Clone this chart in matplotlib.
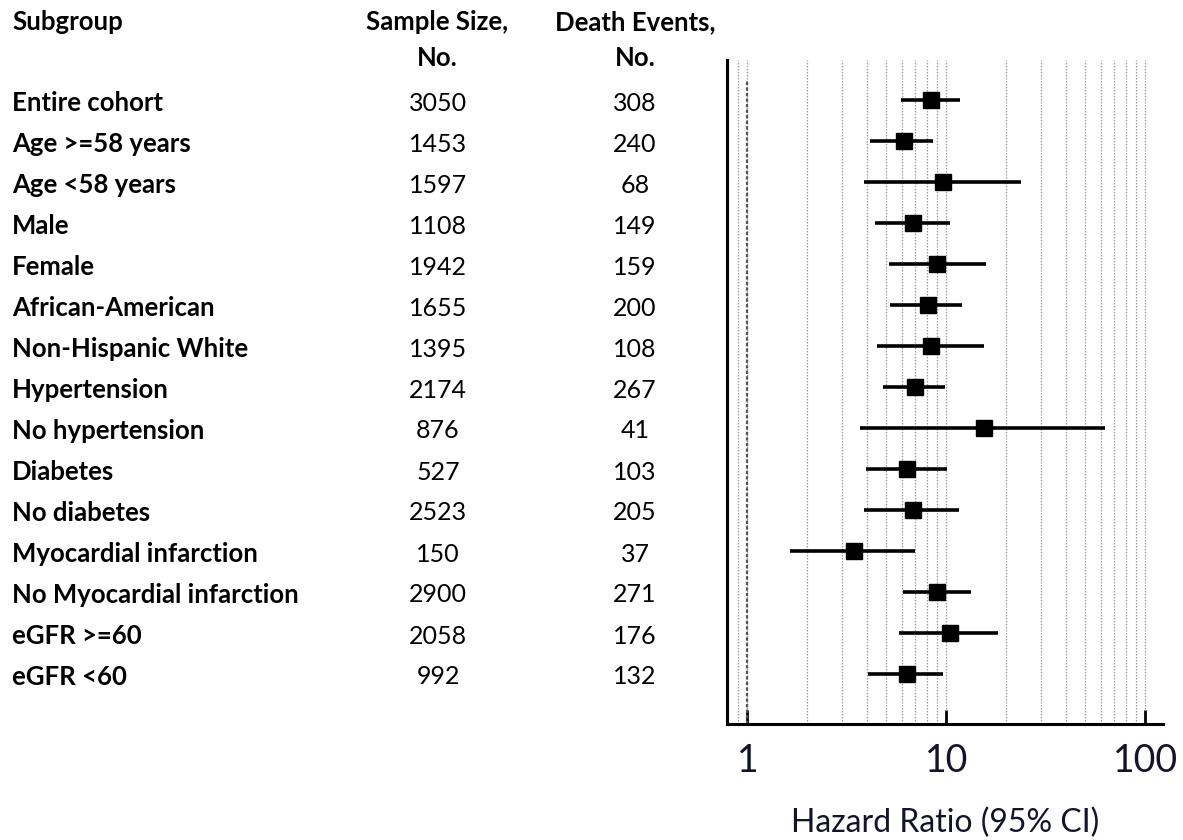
import matplotlib
matplotlib.use("Agg")
import matplotlib.pyplot as plt
import matplotlib.transforms as mtransforms

plt.rcParams['font.family'] = ['Lato', 'DejaVu Sans']

subgroups = ["Entire cohort", "Age >=58 years", "Age <58 years", "Male", "Female",
             "African-American", "Non-Hispanic White", "Hypertension", "No hypertension",
             "Diabetes", "No diabetes", "Myocardial infarction", "No Myocardial infarction",
             "eGFR >=60", "eGFR <60"]
sample_size = [3050, 1453, 1597, 1108, 1942, 1655, 1395, 2174, 876, 527, 2523, 150, 2900, 2058, 992]
death_events = [308, 240, 68, 149, 159, 200, 108, 267, 41, 103, 205, 37, 271, 176, 132]
hr = [8.4, 6.1, 9.6, 6.8, 9.0, 8.06, 8.4, 7.0, 15.4, 6.35, 6.8, 3.42, 9.0, 10.5, 6.35]
ci_low = [5.94, 4.15, 3.87, 4.4, 5.13, 5.23, 4.48, 4.8, 3.7, 3.95, 3.87, 1.63, 6.06, 5.8, 4.02]
ci_high = [11.7, 8.6, 23.8, 10.5, 15.8, 12.0, 15.5, 9.9, 63.0, 10.1, 11.6, 7.0, 13.3, 18.3, 9.6]
xticks = [1, 10, 100]
xticklabels = ["1", "10", "100"]

W, H = 1183, 840
fig = plt.figure(figsize=(W / 100, H / 100), dpi=100)
ax = fig.add_axes([727 / W, 1 - 724 / H, (1163 - 727) / W, (724 - 60) / H])

ax.set_xscale('log')
ax.set_xlim(0.79, 123)
row_step = 41.0
ax.set_ylim((724 - 100) / row_step, (60 - 100) / row_step)

# grid lines
ax.grid(which='both', axis='x', linestyle=(0, (1.2, 1.2)), color='#9a9a9a', linewidth=0.9)
ax.axvline(1, color='#555555', linestyle=(0, (1.5, 1)), linewidth=1.6, ymin=0, ymax=0.97)

ys = list(range(len(subgroups)))
for y, lo, hi in zip(ys, ci_low, ci_high):
    ax.plot([lo, hi], [y, y], color='black', linewidth=2.6, solid_capstyle='butt', zorder=3)
ax.plot(hr, ys, linestyle='none', marker='s', markersize=12, color='black', zorder=4)

for s in ['top', 'right']:
    ax.spines[s].set_visible(False)
ax.spines['left'].set_linewidth(2.2)
ax.spines['bottom'].set_linewidth(2.2)
ax.set_yticks([])
ax.set_xticks(xticks)
ax.set_xticklabels(xticklabels, fontsize=27, color='#141428')
ax.xaxis.set_minor_locator(matplotlib.ticker.LogLocator(base=10, subs=range(2, 10)))
ax.xaxis.set_minor_formatter(matplotlib.ticker.NullFormatter())
ax.tick_params(axis='x', which='major', direction='in', length=10, width=2, pad=14)
ax.tick_params(axis='x', which='minor', length=0)
ax.set_xlabel("Hazard Ratio (95% CI)", fontsize=23, color='#141428', labelpad=20)

# table text
trans = mtransforms.blended_transform_factory(fig.transFigure, ax.transData)
dy = 3 / row_step
for y, name, n, d in zip(ys, subgroups, sample_size, death_events):
    ax.text(12 / W, y + dy, name, transform=trans, fontsize=18.5, fontweight='bold',
            ha='left', va='center', clip_on=False)
    ax.text(438 / W, y + dy, str(n), transform=trans, fontsize=18,
            ha='center', va='center', clip_on=False)
    ax.text(635 / W, y + dy, str(d), transform=trans, fontsize=18,
            ha='center', va='center', clip_on=False)

fig.text(12 / W, 1 - 22 / H, "Subgroup", fontsize=18.5, fontweight='bold', ha='left', va='center')
fig.text(437 / W, 1 - 22 / H, "Sample Size,", fontsize=18.5, fontweight='bold', ha='center', va='center')
fig.text(437 / W, 1 - 58 / H, "No.", fontsize=18.5, fontweight='bold', ha='center', va='center')
fig.text(635 / W, 1 - 22 / H, "Death Events,", fontsize=18.5, fontweight='bold', ha='center', va='center')
fig.text(635 / W, 1 - 58 / H, "No.", fontsize=18.5, fontweight='bold', ha='center', va='center')

fig.savefig("out.png", dpi=100)
